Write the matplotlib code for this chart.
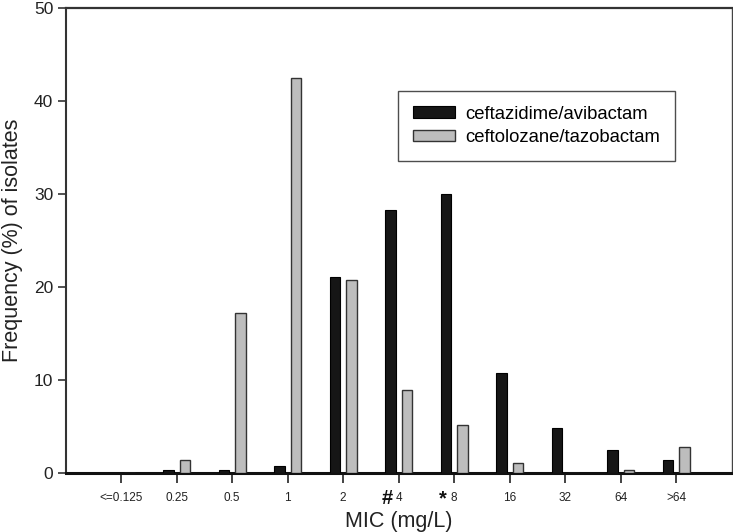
import matplotlib
matplotlib.use("Agg")
import matplotlib.pyplot as plt
import numpy as np
from matplotlib.patches import Patch

plt.rcParams['font.family'] = ['Liberation Sans', 'DejaVu Sans']

categories = ["<=0.125", "0.25", "0.5", "1", "2", "4", "8", "16", "32", "64", ">64"]
caz_avi = [0.0, 0.3, 0.3, 0.7, 21.0, 28.2, 30.0, 10.7, 4.8, 2.4, 1.4]
tol_taz = [0.0, 1.3, 17.2, 42.4, 20.7, 8.9, 5.1, 1.0, 0.0, 0.3, 2.7]
series_names = ["ceftazidime/avibactam", "ceftolozane/tazobactam"]
markers = {"4": "#", "8": "*"}

fig = plt.figure(figsize=(7.33, 5.32), dpi=100)
ax = fig.add_axes([0.0896, 0.1118, 0.9086, 0.8741])

x = np.arange(len(categories))
w = 0.19
ax.bar(x - 0.15, caz_avi, width=w, color='#161616', edgecolor='#000000', linewidth=0.8, zorder=3)
ax.bar(x + 0.15, tol_taz, width=w, color='#bdbdbd', edgecolor='#333333', linewidth=1.0, zorder=3)

ax.set_xlim(-1, 11)
ax.set_ylim(0, 50)
ax.set_xticks(x)
ax.set_xticklabels(categories, fontsize=8.5, color='#222222')
ax.set_yticks([0, 10, 20, 30, 40, 50])
ax.tick_params(axis='y', labelsize=12.5, direction='out', length=6, width=1.2, color='#333333', pad=3, labelcolor='#222222')
ax.tick_params(axis='x', direction='out', length=7, width=1.2, color='#222222', pad=7)

ax.spines['left'].set_linewidth(1.5)
ax.spines['left'].set_color('#333333')
ax.spines['bottom'].set_linewidth(2.2)
ax.spines['bottom'].set_color('#111111')
ax.spines['top'].set_linewidth(1.6)
ax.spines['top'].set_color('#333333')
ax.spines['right'].set_linewidth(1.0)
ax.spines['right'].set_color('#444444')

ax.set_ylabel("Frequency (%) of isolates", fontsize=15.5, color='#222222', labelpad=8)
ax.set_xlabel("MIC (mg/L)", fontsize=15.5, color='#222222', labelpad=5)

trans = ax.get_xaxis_transform()
for i, c in enumerate(categories):
    if c in markers:
        ax.text(i - 0.2, -0.036, markers[c], transform=trans, ha='center', va='top',
                fontsize=14.5, fontweight='bold', color='#111111')

handles = [Patch(facecolor='#161616', edgecolor='#000000', linewidth=0.8),
           Patch(facecolor='#bdbdbd', edgecolor='#333333', linewidth=1.0)]
leg = ax.legend(handles, series_names, loc='upper left', bbox_to_anchor=(0.499, 0.821),
                fontsize=13.3, frameon=True, fancybox=False, edgecolor='#222222',
                handlelength=2.3, handleheight=0.55, borderpad=0.8, labelspacing=0.35,
                handletextpad=0.55, borderaxespad=0)
leg.get_frame().set_linewidth(1.0)

fig.savefig("out.png", dpi=100)
